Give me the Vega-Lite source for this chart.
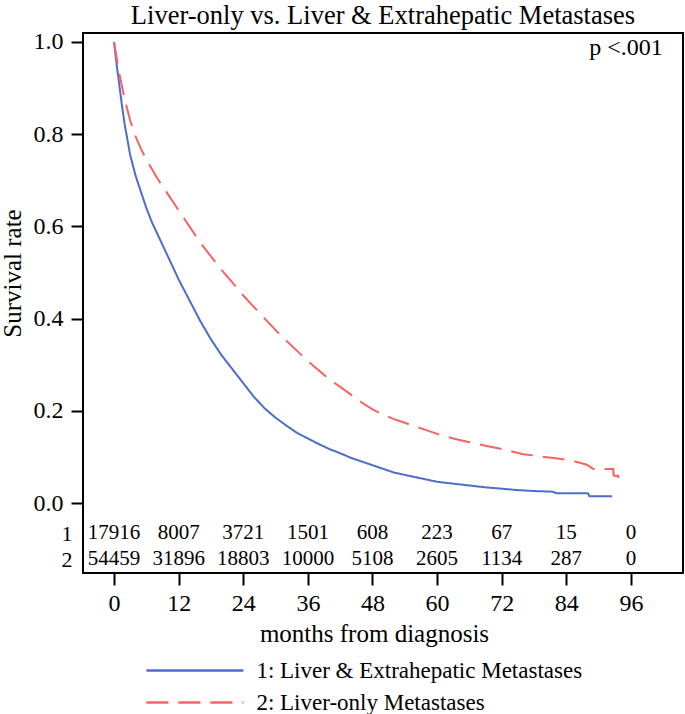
{
  "$schema": "https://vega.github.io/schema/vega-lite/v6.json",
  "autosize": {"type": "none"},
  "padding": {"left": 83, "top": 33, "right": 2, "bottom": 141},
  "width": 600,
  "height": 540,
  "background": "white",
  "title": {"text": "Liver-only vs. Liver & Extrahepatic Metastases", "font": "Liberation Serif", "fontSize": 26.5, "fontWeight": "normal", "color": "black", "frame": "group", "baseline": "alphabetic", "offset": -21, "anchor": "middle"},
  "config": {
    "view": {"stroke": "black", "strokeWidth": 2},
    "axis": {"labelFont": "Liberation Serif", "titleFont": "Liberation Serif", "labelColor": "black", "titleColor": "black", "tickColor": "black", "domain": false, "grid": false, "titleFontWeight": "normal"},
    "legend": {"labelFont": "Liberation Serif", "labelColor": "black"}
  },
  "datasets": {
    "curves": [
      {"group": "1: Liver & Extrahepatic Metastases", "month": 0, "surv": 1.0},
      {"group": "1: Liver & Extrahepatic Metastases", "month": 0.5, "surv": 0.95},
      {"group": "1: Liver & Extrahepatic Metastases", "month": 1, "surv": 0.905},
      {"group": "1: Liver & Extrahepatic Metastases", "month": 1.5, "surv": 0.86},
      {"group": "1: Liver & Extrahepatic Metastases", "month": 2, "surv": 0.82},
      {"group": "1: Liver & Extrahepatic Metastases", "month": 3, "surv": 0.755},
      {"group": "1: Liver & Extrahepatic Metastases", "month": 4, "surv": 0.71},
      {"group": "1: Liver & Extrahepatic Metastases", "month": 5, "surv": 0.675},
      {"group": "1: Liver & Extrahepatic Metastases", "month": 6, "surv": 0.64},
      {"group": "1: Liver & Extrahepatic Metastases", "month": 7, "surv": 0.61},
      {"group": "1: Liver & Extrahepatic Metastases", "month": 8, "surv": 0.585},
      {"group": "1: Liver & Extrahepatic Metastases", "month": 9, "surv": 0.56},
      {"group": "1: Liver & Extrahepatic Metastases", "month": 10, "surv": 0.535},
      {"group": "1: Liver & Extrahepatic Metastases", "month": 11, "surv": 0.51},
      {"group": "1: Liver & Extrahepatic Metastases", "month": 12, "surv": 0.485},
      {"group": "1: Liver & Extrahepatic Metastases", "month": 14, "surv": 0.44},
      {"group": "1: Liver & Extrahepatic Metastases", "month": 16, "surv": 0.395},
      {"group": "1: Liver & Extrahepatic Metastases", "month": 18, "surv": 0.355},
      {"group": "1: Liver & Extrahepatic Metastases", "month": 20, "surv": 0.32},
      {"group": "1: Liver & Extrahepatic Metastases", "month": 22, "surv": 0.29},
      {"group": "1: Liver & Extrahepatic Metastases", "month": 24, "surv": 0.26},
      {"group": "1: Liver & Extrahepatic Metastases", "month": 26, "surv": 0.23},
      {"group": "1: Liver & Extrahepatic Metastases", "month": 28, "surv": 0.205},
      {"group": "1: Liver & Extrahepatic Metastases", "month": 30, "surv": 0.185},
      {"group": "1: Liver & Extrahepatic Metastases", "month": 32, "surv": 0.168},
      {"group": "1: Liver & Extrahepatic Metastases", "month": 34, "surv": 0.152},
      {"group": "1: Liver & Extrahepatic Metastases", "month": 36, "surv": 0.14},
      {"group": "1: Liver & Extrahepatic Metastases", "month": 38, "surv": 0.128},
      {"group": "1: Liver & Extrahepatic Metastases", "month": 40, "surv": 0.117},
      {"group": "1: Liver & Extrahepatic Metastases", "month": 42, "surv": 0.108},
      {"group": "1: Liver & Extrahepatic Metastases", "month": 44, "surv": 0.098},
      {"group": "1: Liver & Extrahepatic Metastases", "month": 46, "surv": 0.09},
      {"group": "1: Liver & Extrahepatic Metastases", "month": 48, "surv": 0.082},
      {"group": "1: Liver & Extrahepatic Metastases", "month": 50, "surv": 0.074},
      {"group": "1: Liver & Extrahepatic Metastases", "month": 52, "surv": 0.066},
      {"group": "1: Liver & Extrahepatic Metastases", "month": 54, "surv": 0.061},
      {"group": "1: Liver & Extrahepatic Metastases", "month": 56, "surv": 0.056},
      {"group": "1: Liver & Extrahepatic Metastases", "month": 58, "surv": 0.051},
      {"group": "1: Liver & Extrahepatic Metastases", "month": 60, "surv": 0.046},
      {"group": "1: Liver & Extrahepatic Metastases", "month": 63, "surv": 0.042},
      {"group": "1: Liver & Extrahepatic Metastases", "month": 66, "surv": 0.038},
      {"group": "1: Liver & Extrahepatic Metastases", "month": 69, "surv": 0.034},
      {"group": "1: Liver & Extrahepatic Metastases", "month": 72, "surv": 0.031},
      {"group": "1: Liver & Extrahepatic Metastases", "month": 75, "surv": 0.028},
      {"group": "1: Liver & Extrahepatic Metastases", "month": 78, "surv": 0.026},
      {"group": "1: Liver & Extrahepatic Metastases", "month": 81.5, "surv": 0.0245},
      {"group": "1: Liver & Extrahepatic Metastases", "month": 82.2, "surv": 0.021},
      {"group": "1: Liver & Extrahepatic Metastases", "month": 88, "surv": 0.021},
      {"group": "1: Liver & Extrahepatic Metastases", "month": 88.3, "surv": 0.0145},
      {"group": "1: Liver & Extrahepatic Metastases", "month": 92.5, "surv": 0.0145},
      {"group": "2: Liver-only Metastases", "month": 0, "surv": 1.0},
      {"group": "2: Liver-only Metastases", "month": 1, "surv": 0.93},
      {"group": "2: Liver-only Metastases", "month": 2, "surv": 0.875},
      {"group": "2: Liver-only Metastases", "month": 3, "surv": 0.83},
      {"group": "2: Liver-only Metastases", "month": 4, "surv": 0.795},
      {"group": "2: Liver-only Metastases", "month": 5, "surv": 0.768},
      {"group": "2: Liver-only Metastases", "month": 6, "surv": 0.745},
      {"group": "2: Liver-only Metastases", "month": 8, "surv": 0.705},
      {"group": "2: Liver-only Metastases", "month": 10, "surv": 0.67},
      {"group": "2: Liver-only Metastases", "month": 12, "surv": 0.635},
      {"group": "2: Liver-only Metastases", "month": 14, "surv": 0.6},
      {"group": "2: Liver-only Metastases", "month": 16, "surv": 0.565},
      {"group": "2: Liver-only Metastases", "month": 18, "surv": 0.535},
      {"group": "2: Liver-only Metastases", "month": 20, "surv": 0.505},
      {"group": "2: Liver-only Metastases", "month": 22, "surv": 0.478},
      {"group": "2: Liver-only Metastases", "month": 24, "surv": 0.45},
      {"group": "2: Liver-only Metastases", "month": 26, "surv": 0.425},
      {"group": "2: Liver-only Metastases", "month": 28, "surv": 0.4},
      {"group": "2: Liver-only Metastases", "month": 30, "surv": 0.375},
      {"group": "2: Liver-only Metastases", "month": 32, "surv": 0.352},
      {"group": "2: Liver-only Metastases", "month": 34, "surv": 0.33},
      {"group": "2: Liver-only Metastases", "month": 36, "surv": 0.308},
      {"group": "2: Liver-only Metastases", "month": 38, "surv": 0.288},
      {"group": "2: Liver-only Metastases", "month": 40, "surv": 0.268},
      {"group": "2: Liver-only Metastases", "month": 42, "surv": 0.252},
      {"group": "2: Liver-only Metastases", "month": 44, "surv": 0.235},
      {"group": "2: Liver-only Metastases", "month": 46, "surv": 0.218},
      {"group": "2: Liver-only Metastases", "month": 48, "surv": 0.203},
      {"group": "2: Liver-only Metastases", "month": 50, "surv": 0.192},
      {"group": "2: Liver-only Metastases", "month": 52, "surv": 0.182},
      {"group": "2: Liver-only Metastases", "month": 54, "surv": 0.174},
      {"group": "2: Liver-only Metastases", "month": 56, "surv": 0.166},
      {"group": "2: Liver-only Metastases", "month": 58, "surv": 0.158},
      {"group": "2: Liver-only Metastases", "month": 60, "surv": 0.15},
      {"group": "2: Liver-only Metastases", "month": 63, "surv": 0.14},
      {"group": "2: Liver-only Metastases", "month": 66, "surv": 0.132},
      {"group": "2: Liver-only Metastases", "month": 69, "surv": 0.124},
      {"group": "2: Liver-only Metastases", "month": 72, "surv": 0.117},
      {"group": "2: Liver-only Metastases", "month": 76, "surv": 0.106},
      {"group": "2: Liver-only Metastases", "month": 80, "surv": 0.1},
      {"group": "2: Liver-only Metastases", "month": 82, "surv": 0.097},
      {"group": "2: Liver-only Metastases", "month": 85, "surv": 0.092},
      {"group": "2: Liver-only Metastases", "month": 87.8, "surv": 0.083},
      {"group": "2: Liver-only Metastases", "month": 89, "surv": 0.074},
      {"group": "2: Liver-only Metastases", "month": 92.7, "surv": 0.074},
      {"group": "2: Liver-only Metastases", "month": 92.8, "surv": 0.059},
      {"group": "2: Liver-only Metastases", "month": 93.6, "surv": 0.059},
      {"group": "2: Liver-only Metastases", "month": 93.7, "surv": 0.052},
      {"group": "2: Liver-only Metastases", "month": 95, "surv": 0.052}
    ],
    "risk": [
      {"row": "1", "month": 0, "n": "17916"},
      {"row": "1", "month": 12, "n": "8007"},
      {"row": "1", "month": 24, "n": "3721"},
      {"row": "1", "month": 36, "n": "1501"},
      {"row": "1", "month": 48, "n": "608"},
      {"row": "1", "month": 60, "n": "223"},
      {"row": "1", "month": 72, "n": "67"},
      {"row": "1", "month": 84, "n": "15"},
      {"row": "1", "month": 96, "n": "0"},
      {"row": "2", "month": 0, "n": "54459"},
      {"row": "2", "month": 12, "n": "31896"},
      {"row": "2", "month": 24, "n": "18803"},
      {"row": "2", "month": 36, "n": "10000"},
      {"row": "2", "month": 48, "n": "5108"},
      {"row": "2", "month": 60, "n": "2605"},
      {"row": "2", "month": 72, "n": "1134"},
      {"row": "2", "month": 84, "n": "287"},
      {"row": "2", "month": 96, "n": "0"}
    ],
    "annot": [
      {"label": "p <.001"}
    ]
  },
  "layer": [
    {
      "layer": [
        {
          "data": {"name": "curves"},
          "mark": {"type": "line", "strokeWidth": 2, "interpolate": "linear"},
          "encoding": {
            "x": {"field": "month", "type": "quantitative", "scale": {"domain": [-5.76, 105.66], "nice": false, "zero": false},
              "axis": {"values": [0, 12, 24, 36, 48, 60, 72, 84, 96], "title": "months from diagnosis", "labelFontSize": 24, "titleFontSize": 25, "tickSize": 12, "tickWidth": 2, "labelPadding": 18, "labelBaseline": "middle", "titleX": 291, "titleY": 60, "titleBaseline": "middle", "titleAnchor": "middle"}},
            "y": {"field": "surv", "type": "quantitative", "scale": {"domain": [-0.1518, 1.0195], "nice": false, "zero": false},
              "axis": {"values": [0, 0.2, 0.4, 0.6, 0.8, 1.0], "format": ".1f", "title": "Survival rate", "labelFontSize": 24, "titleFontSize": 25, "tickSize": 12, "tickWidth": 2, "labelPadding": 8, "titleX": -71, "titleY": 240, "titleBaseline": "middle", "titleAngle": -90}},
            "color": {"field": "group", "type": "nominal", "scale": {"domain": ["1: Liver & Extrahepatic Metastases", "2: Liver-only Metastases"], "range": ["#4d6dcb", "#f86262"]},
              "legend": {"title": null, "orient": "none", "legendX": 98.4, "legendY": 624, "symbolType": "M-4,0L4,0", "symbolSize": 588, "symbolStrokeWidth": 2.5, "labelFontSize": 23, "labelOffset": 48, "labelLimit": 0, "rowPadding": 6, "padding": 0}},
            "strokeDash": {"field": "group", "type": "nominal", "scale": {"domain": ["1: Liver & Extrahepatic Metastases", "2: Liver-only Metastases"], "range": [[1, 0], [22, 10]]}, "legend": null}
          }
        },
        {
          "data": {"name": "annot"},
          "mark": {"type": "text", "font": "Liberation Serif", "fontSize": 24, "color": "black", "align": "right", "baseline": "alphabetic"},
          "encoding": {
            "x": {"datum": 101.9, "type": "quantitative"},
            "y": {"datum": 0.972, "type": "quantitative"},
            "text": {"field": "label", "type": "nominal"}
          }
        }
      ]
    },
    {
      "data": {"name": "risk"},
      "mark": {"type": "text", "font": "Liberation Serif", "fontSize": 21, "color": "black", "align": "center", "baseline": "middle"},
      "encoding": {
        "x": {"field": "month", "type": "quantitative"},
        "y": {"field": "row", "type": "ordinal", "scale": {"type": "point", "domain": ["1", "2"], "range": [500, 526], "padding": 0},
          "axis": {"orient": "left", "title": null, "ticks": false, "labelPadding": 11, "labelFontSize": 22}},
        "text": {"field": "n", "type": "nominal"}
      }
    }
  ],
  "resolve": {"scale": {"y": "independent"}, "axis": {"y": "independent"}}
}
